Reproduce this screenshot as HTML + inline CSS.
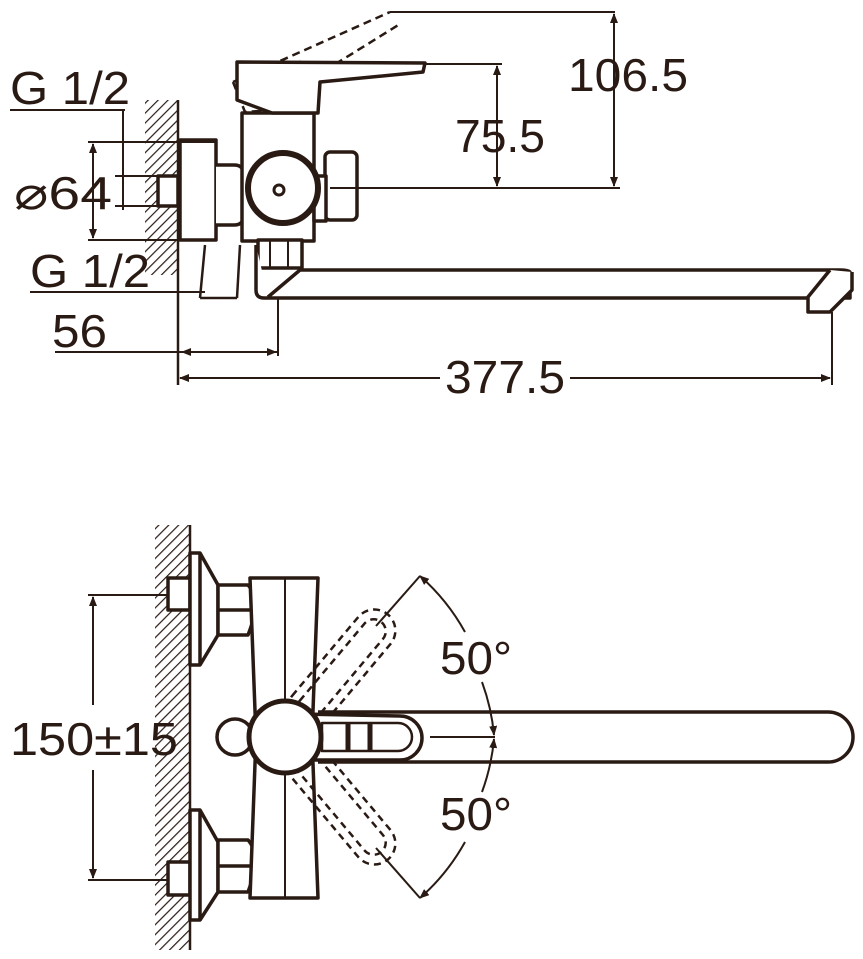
<!DOCTYPE html>
<html><head><meta charset="utf-8"><style>
html,body{margin:0;padding:0;background:#fff;}
svg{display:block}
text{font-family:"Liberation Sans",sans-serif;fill:#2a1a14;font-size:46px}
</style></head><body>
<svg width="863" height="959" viewBox="0 0 863 959" xmlns="http://www.w3.org/2000/svg">
<defs>
<pattern id="h" width="7" height="7" patternUnits="userSpaceOnUse" patternTransform="rotate(45)">
<rect width="7" height="7" fill="#fff"/><line x1="0" y1="0" x2="0" y2="7" stroke="#2a1a14" stroke-width="2.4"/>
</pattern>
<marker id="a" markerWidth="10" markerHeight="8" refX="9" refY="4" orient="auto-start-reverse" markerUnits="userSpaceOnUse"><path d="M0,0 L10,4 L0,8 Z" fill="#2a1a14"/></marker>
</defs>
<g stroke="#2a1a14" fill="none" stroke-width="3.5" stroke-linejoin="round">
<!-- TOP VIEW -->
<rect x="145" y="100" width="33" height="175" fill="url(#h)" stroke="none"/>
<line x1="178" y1="100" x2="178" y2="385" stroke-width="2.5"/>
<rect x="158" y="176" width="20" height="30" fill="#fff"/>
<rect x="180" y="140" width="36" height="100" fill="#fff"/>
<path d="M216 165 h18 q10 0 10 10 v40 q0 10 -10 10 h-18" fill="#fff"/>
<path d="M205 245 L200 298 M240 245 L237 298 M200 298 L237 298" stroke-width="2.5"/>
<!-- dashed handle -->
<path d="M233 82 L390 12 M258 112 L400 24 M233 82 L245 112 L305 108 L310 82 L300 60" stroke-dasharray="8 5" stroke-width="2.5"/>
<line x1="390" y1="12" x2="615" y2="12" stroke-width="2"/>
<!-- body -->
<rect x="242" y="113" width="72" height="128" fill="#fff"/>
<path d="M237 62 L425 63 L423 72 L320 82 L318 113 L272 113 L237 100 Z" fill="#fff"/>
<rect x="325" y="152" width="32" height="68" rx="5" fill="#fff"/>
<rect x="314" y="176" width="12" height="45" fill="#fff"/>
<rect x="258" y="240" width="44" height="28" fill="#fff"/>
<line x1="270" y1="240" x2="270" y2="268" stroke-width="2"/><line x1="288" y1="240" x2="288" y2="268" stroke-width="2"/>
<circle cx="283" cy="188" r="35" fill="#fff" stroke-width="6"/>
<circle cx="279" cy="190" r="5" stroke-width="3"/>
<path d="M256 245 V290 Q256 298 264 298 H850 V272 Q848 270 840 270 H300 L268 297" fill="#fff"/>
<path d="M830 270 L808 297 L808 312 L830 312 L852 290 V272" fill="#fff"/>
<!-- dims top -->
<g stroke-width="2">
<line x1="330" y1="188" x2="620" y2="188"/>
<line x1="614" y1="14" x2="614" y2="186" marker-start="url(#a)" marker-end="url(#a)"/>
<line x1="425" y1="64" x2="502" y2="64"/>
<line x1="497" y1="66" x2="497" y2="186" marker-start="url(#a)" marker-end="url(#a)"/>
<line x1="88" y1="142" x2="215" y2="142"/><line x1="88" y1="240" x2="215" y2="240"/>
<line x1="93" y1="144" x2="93" y2="238" marker-start="url(#a)" marker-end="url(#a)"/>
<line x1="10" y1="110" x2="125" y2="110"/><line x1="123" y1="110" x2="123" y2="210"/>
<line x1="115" y1="176" x2="160" y2="176"/><line x1="115" y1="206" x2="160" y2="206"/>
<line x1="30" y1="292" x2="205" y2="292"/>
<line x1="55" y1="352" x2="278" y2="352"/>
<line x1="182" y1="352" x2="276" y2="352" marker-start="url(#a)" marker-end="url(#a)"/>
<line x1="278" y1="297" x2="278" y2="356"/>
<line x1="832" y1="312" x2="832" y2="385"/>
<line x1="180" y1="378" x2="440" y2="378" marker-start="url(#a)"/>
<line x1="570" y1="378" x2="830" y2="378" marker-end="url(#a)"/>
</g>
<!-- BOTTOM VIEW -->
<rect x="155" y="525" width="35" height="425" fill="url(#h)" stroke="none"/>
<line x1="190" y1="525" x2="190" y2="950" stroke-width="2.5"/>
<rect x="168" y="578" width="22" height="32" fill="#fff"/>
<rect x="168" y="862" width="22" height="33" fill="#fff"/>
<path d="M190 553 H200 L218 585 V635 L200 665 H190 Z M200 553 V665" fill="#fff"/>
<path d="M190 810 H200 L218 842 V892 L200 920 H190 Z M200 810 V920" fill="#fff"/>
<path d="M218 585 H248 Q262 600 248 635 H218 Z M218 610 H255" fill="#fff"/>
<path d="M218 840 H248 Q262 855 248 892 H218 Z M218 866 H255" fill="#fff"/>
<path d="M250 578 H318 L312 737 L318 898 H250 L256 737 Z" fill="#fff"/>
<line x1="285" y1="578" x2="285" y2="898" stroke-width="2"/>
<!-- dashed levers -->
<g stroke-dasharray="7 5" stroke-width="2.5">
<g transform="rotate(-50 285 737)"><rect x="300" y="716" width="145" height="42" rx="21"/><rect x="310" y="725" width="125" height="24" rx="12"/></g>
<g transform="rotate(50 285 737)"><rect x="300" y="716" width="145" height="42" rx="21"/><rect x="310" y="725" width="125" height="24" rx="12"/></g>
</g>
<path d="M318 712 H828 A25 25 0 0 1 828 762 H318" fill="#fff"/>
<circle cx="235" cy="737" r="18" fill="#fff"/>
<path d="M300 714 L400 716 A22 22 0 0 1 400 760 L300 760 Z" fill="#fff"/>
<path d="M322 723 H398 A14 14 0 0 1 398 751 H322 Z" stroke-width="2.5"/>
<line x1="348" y1="723" x2="348" y2="751" stroke-width="5"/><line x1="370" y1="723" x2="370" y2="751" stroke-width="5"/>
<circle cx="285" cy="737" r="36" fill="#fff" stroke-width="5"/>
<g stroke-width="2">
<line x1="430" y1="737" x2="495" y2="737"/>
<line x1="376" y1="626" x2="420" y2="576"/>
<line x1="376" y1="848" x2="420" y2="898"/>
<path d="M420 576 A210 210 0 0 1 465 632" marker-start="url(#a)"/>
<path d="M482 682 A210 210 0 0 1 494 735" marker-end="url(#a)"/>
<path d="M494 739 A210 210 0 0 1 482 792" marker-start="url(#a)"/>
<path d="M465 842 A210 210 0 0 1 420 898" marker-end="url(#a)"/>
<line x1="88" y1="595" x2="168" y2="595"/><line x1="88" y1="880" x2="168" y2="880"/>
<line x1="93" y1="597" x2="93" y2="705" marker-start="url(#a)"/>
<line x1="93" y1="770" x2="93" y2="878" marker-end="url(#a)"/>
</g>
</g>
<text x="10" y="104" textLength="120" lengthAdjust="spacingAndGlyphs">G 1/2</text>
<text x="568" y="91" textLength="120" lengthAdjust="spacingAndGlyphs">106.5</text>
<text x="455" y="152" textLength="90" lengthAdjust="spacingAndGlyphs">75.5</text>
<text x="14" y="209" textLength="98" lengthAdjust="spacingAndGlyphs">⌀64</text>
<text x="30" y="287" textLength="120" lengthAdjust="spacingAndGlyphs">G 1/2</text>
<text x="52" y="347" textLength="55" lengthAdjust="spacingAndGlyphs">56</text>
<text x="445" y="393" textLength="120" lengthAdjust="spacingAndGlyphs">377.5</text>
<text x="440" y="674" textLength="72" lengthAdjust="spacingAndGlyphs">50°</text>
<text x="440" y="830" textLength="72" lengthAdjust="spacingAndGlyphs">50°</text>
<text x="10" y="755" textLength="168" lengthAdjust="spacingAndGlyphs">150±15</text>
</svg>
</body></html>
